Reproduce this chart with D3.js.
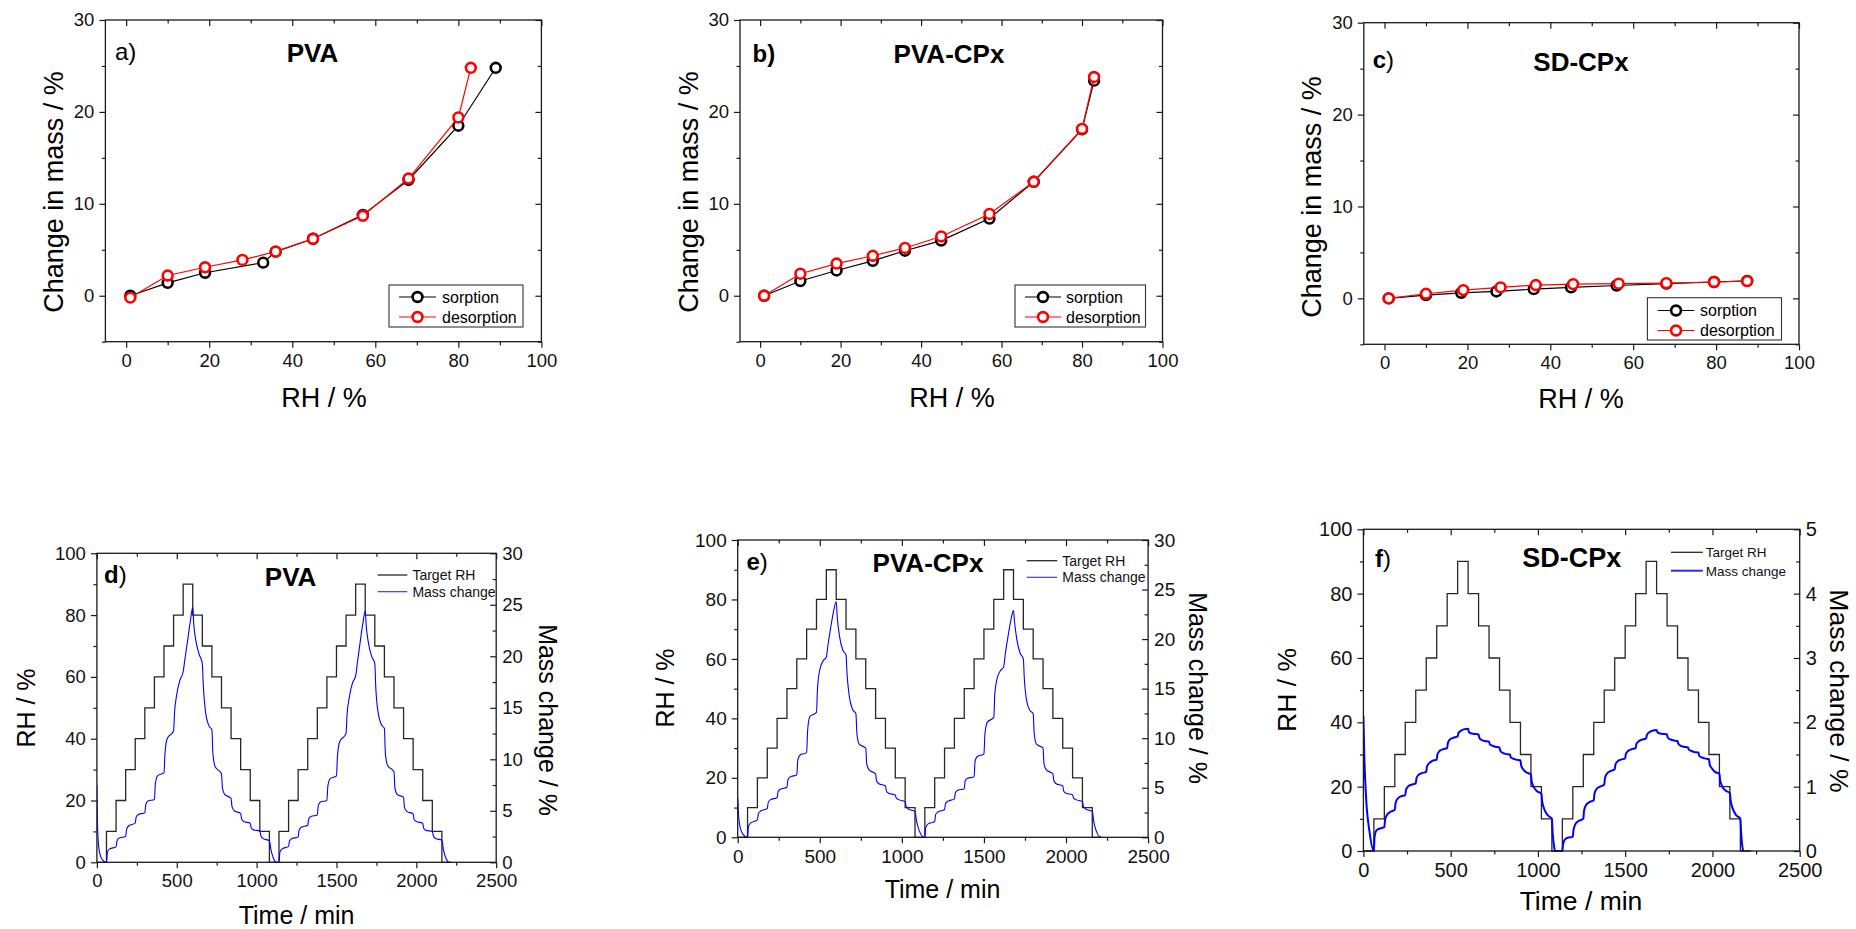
<!DOCTYPE html>
<html>
<head>
<meta charset="utf-8">
<script src="https://cdn.jsdelivr.net/npm/d3@7"></script>
<style>
  body { margin: 0; background: #fff; }
</style>
</head>
<body>
<script>
// ---------- Isotherm data (RH %, change in mass %) ----------
const rhPvaSorption      = [1, 10, 19, 33, 36, 45, 57, 68, 80, 89];
const massPvaSorption    = [0, 1.4, 2.5, 3.6, 4.8, 6.2, 8.8, 12.6, 18.5, 24.8];
const rhPvaDesorption    = [1, 10, 19, 28, 36, 45, 57, 68, 80, 83];
const massPvaDesorption  = [-0.2, 2.2, 3.1, 3.9, 4.8, 6.2, 8.7, 12.75, 19.4, 24.8];

const rhPvaCpxSorption     = [1, 10, 19, 28, 36, 45, 57, 68, 80, 83];
const massPvaCpxSorption   = [0, 1.6, 2.75, 3.8, 4.9, 6.0, 8.4, 12.4, 18.1, 23.4];
const rhPvaCpxDesorption   = [1, 10, 19, 28, 36, 45, 57, 68, 80, 83];
const massPvaCpxDesorption = [0, 2.4, 3.5, 4.35, 5.2, 6.45, 8.9, 12.4, 18.15, 23.8];

const rhSdCpxSorption     = [1, 10, 18.5, 27, 36, 45, 56, 68, 79.5, 87.5];
const massSdCpxSorption   = [0, 0.35, 0.6, 0.75, 1.0, 1.2, 1.4, 1.6, 1.78, 1.9];
const rhSdCpxDesorption   = [1, 10, 19, 28, 36.5, 45.5, 56.5, 68, 79.5, 87.5];
const massSdCpxDesorption = [0, 0.5, 0.9, 1.2, 1.45, 1.55, 1.6, 1.65, 1.78, 1.88];

// ---------- DVS programme: target RH held for 60 min per step ----------
const stepMinutes = 60;
const targetRhSteps = [0, 10, 20, 30, 40, 50, 60, 70, 80, 90, 80, 70, 60, 50, 40, 30, 20, 10,
                       0, 10, 20, 30, 40, 50, 60, 70, 80, 90, 80, 70, 60, 50, 40, 30, 20, 10, 0];

// ---------- Mass change traces [time min, mass %] ----------
const massTracePva = [
  [0,7.5],[4,3.6],[12,1.4],[30,0.35],[60,0],
  [66,1.0],[80,1.3],[120,1.5],
  [126,2.1],[140,2.35],[180,2.5],
  [186,3.2],[200,3.55],[240,3.8],
  [246,4.4],[260,4.65],[300,4.8],
  [306,5.6],[320,5.95],[360,6.1],
  [366,7.6],[380,8.4],[420,8.7],
  [426,10.5],[440,12.0],[480,12.75],
  [486,14.5],[500,16.3],[520,17.7],[540,18.5],
  [550,19.6],[565,21.2],[585,23.4],[600,24.75],
  [606,23.2],[620,21.5],[640,20.2],[660,19.3],
  [666,17.2],[680,14.6],[700,13.3],[720,12.85],
  [726,10.6],[740,9.3],[780,8.6],
  [786,7.2],[800,6.6],[840,6.2],
  [846,5.4],[860,5.0],[900,4.75],
  [906,4.2],[920,3.95],[960,3.8],
  [966,3.35],[980,3.15],[1020,3.05],
  [1026,2.6],[1040,2.3],[1080,2.1],
  [1090,1.2],[1105,0.4],[1125,0],[1140,0],
  [1146,1.0],[1160,1.3],[1200,1.55],
  [1206,2.1],[1220,2.3],[1260,2.45],
  [1266,3.1],[1280,3.4],[1320,3.6],
  [1326,4.2],[1340,4.45],[1380,4.6],
  [1386,5.5],[1400,5.85],[1440,6.0],
  [1446,7.4],[1460,8.1],[1500,8.4],
  [1506,10.3],[1520,11.7],[1560,12.5],
  [1566,14.3],[1580,16.0],[1600,17.4],[1620,18.1],
  [1630,19.3],[1645,21.0],[1665,23.2],[1680,24.4],
  [1686,23.0],[1700,21.3],[1720,20.0],[1740,19.3],
  [1746,17.0],[1760,14.6],[1780,13.4],[1800,13.0],
  [1806,10.6],[1820,9.4],[1860,8.8],
  [1866,7.2],[1880,6.6],[1920,6.3],
  [1926,5.3],[1940,4.95],[1980,4.7],
  [1986,4.15],[2000,3.95],[2040,3.8],
  [2046,3.3],[2060,3.1],[2100,3.0],
  [2106,2.6],[2120,2.3],[2160,2.15],
  [2170,1.2],[2185,0.4],[2203,0]
];

const massTracePvaCpx = [
  [0,4.0],[5,2.3],[15,1.0],[30,0.35],[60,0],
  [66,1.1],[80,1.45],[120,1.75],
  [126,2.4],[140,2.65],[180,2.9],
  [186,3.5],[200,3.8],[240,4.0],
  [246,4.6],[260,4.85],[300,5.05],
  [306,5.8],[320,6.1],[360,6.3],
  [366,7.8],[380,8.3],[420,8.55],
  [426,10.8],[440,12.2],[480,12.6],
  [486,15.0],[500,16.9],[520,17.8],[540,18.2],
  [550,19.4],[565,21.0],[585,22.9],[600,23.8],
  [606,22.3],[620,20.3],[640,18.9],[660,18.4],
  [666,16.5],[680,14.2],[700,12.9],[720,12.5],
  [726,10.5],[740,9.4],[780,9.0],
  [786,7.4],[800,6.8],[840,6.4],
  [846,5.7],[860,5.4],[900,5.2],
  [906,4.65],[920,4.45],[960,4.27],
  [966,3.95],[980,3.8],[1020,3.6],
  [1026,3.1],[1040,2.85],[1080,2.6],
  [1090,1.6],[1105,0.7],[1125,0.1],[1139,0],
  [1146,1.0],[1160,1.35],[1200,1.6],
  [1206,2.3],[1220,2.55],[1260,2.8],
  [1266,3.4],[1280,3.65],[1320,3.85],
  [1326,4.5],[1340,4.75],[1380,4.9],
  [1386,5.7],[1400,5.95],[1440,6.1],
  [1446,7.7],[1460,8.15],[1500,8.4],
  [1506,10.4],[1520,11.6],[1560,12.1],
  [1566,14.4],[1580,16.0],[1600,16.8],[1620,17.2],
  [1630,18.5],[1645,20.1],[1665,22.0],[1680,22.9],
  [1686,21.8],[1700,20.0],[1720,18.6],[1740,18.0],
  [1746,16.0],[1760,13.8],[1780,12.8],[1800,12.5],
  [1806,10.5],[1820,9.4],[1860,9.0],
  [1866,7.4],[1880,6.8],[1920,6.4],
  [1926,5.7],[1940,5.4],[1980,5.2],
  [1986,4.65],[2000,4.45],[2040,4.3],
  [2046,3.95],[2060,3.8],[2100,3.6],
  [2106,3.1],[2120,2.85],[2160,2.6],
  [2170,1.5],[2185,0.6],[2205,0.05],[2215,0]
];

const massTraceSdCpx = [
  [0,2.1],[5,1.5],[15,0.85],[35,0.3],[60,0],
  [64,0.22],[75,0.32],[95,0.35],[120,0.37],
  [124,0.48],[135,0.56],[155,0.61],[180,0.64],
  [184,0.74],[195,0.81],[215,0.85],[240,0.87],
  [244,0.95],[255,1.0],[275,1.03],[300,1.05],
  [304,1.13],[315,1.18],[335,1.21],[360,1.23],
  [364,1.31],[375,1.36],[395,1.4],[420,1.42],
  [424,1.5],[435,1.55],[455,1.58],[480,1.6],
  [484,1.68],[495,1.73],[515,1.76],[540,1.78],
  [544,1.83],[555,1.86],[575,1.89],[600,1.9],
  [604,1.85],[615,1.83],[635,1.82],[660,1.81],
  [664,1.76],[675,1.73],[695,1.71],[720,1.7],
  [724,1.66],[735,1.64],[755,1.62],[780,1.61],
  [784,1.56],[795,1.53],[815,1.51],[840,1.5],
  [844,1.46],[855,1.44],[875,1.42],[900,1.41],
  [904,1.33],[915,1.27],[935,1.22],[960,1.19],
  [964,1.08],[975,1.0],[995,0.93],[1020,0.89],
  [1024,0.78],[1035,0.66],[1055,0.56],[1080,0.5],
  [1084,0.3],[1092,0.08],[1100,0],[1140,0],
  [1144,0.1],[1155,0.18],[1175,0.21],[1200,0.22],
  [1204,0.33],[1215,0.42],[1235,0.47],[1260,0.5],
  [1264,0.62],[1275,0.71],[1295,0.76],[1320,0.79],
  [1324,0.89],[1335,0.96],[1355,1.0],[1380,1.03],
  [1384,1.13],[1395,1.2],[1415,1.24],[1440,1.27],
  [1444,1.34],[1455,1.39],[1475,1.42],[1500,1.44],
  [1504,1.51],[1515,1.55],[1535,1.58],[1560,1.6],
  [1564,1.66],[1575,1.7],[1595,1.73],[1620,1.75],
  [1624,1.8],[1635,1.84],[1655,1.87],[1680,1.88],
  [1684,1.85],[1695,1.83],[1715,1.82],[1740,1.81],
  [1744,1.76],[1755,1.74],[1775,1.72],[1800,1.71],
  [1804,1.67],[1815,1.64],[1835,1.62],[1860,1.61],
  [1864,1.58],[1875,1.56],[1895,1.54],[1920,1.53],
  [1924,1.48],[1935,1.46],[1955,1.44],[1980,1.43],
  [1984,1.35],[1995,1.29],[2015,1.23],[2040,1.2],
  [2044,1.1],[2055,1.01],[2075,0.94],[2100,0.9],
  [2104,0.79],[2115,0.67],[2135,0.56],[2160,0.5],
  [2164,0.3],[2170,0.1],[2176,0]
];

// ---------- Tick values ----------
const rhTicksMajor = [0, 20, 40, 60, 80, 100];
const rhTicksMinor = [10, 30, 50, 70, 90];
const massTicksMajor = [0, 10, 20, 30];
const massTicksMinor = [-5, 5, 15, 25];
const timeTicksMajor = [0, 500, 1000, 1500, 2000, 2500];
const timeTicksMinor = [250, 750, 1250, 1750, 2250];
const rhAxisTicksMajor = [0, 20, 40, 60, 80, 100];
const rhAxisTicksMinor = [10, 30, 50, 70, 90];
const massChangeTicksMajor = [0, 5, 10, 15, 20, 25, 30];
const massChangeTicksMinor = [2.5, 7.5, 12.5, 17.5, 22.5, 27.5];
const massChangeSdTicksMajor = [0, 1, 2, 3, 4, 5];
const massChangeSdTicksMinor = [0.5, 1.5, 2.5, 3.5, 4.5];

// ---------- Drawing ----------
const FONT = "Arial, 'Liberation Sans', Helvetica, sans-serif";
const INK = "#1a1a1a";
const svg = d3.select("body").append("svg")
  .attr("width", 1856).attr("height", 929)
  .style("display", "block");

let clipCount = 0;

function axis(g, fn, scale, values, size, transform, withLabels, fontSize, pad) {
  const ax = fn(scale).tickValues(values).tickSizeInner(size).tickSizeOuter(0)
    .tickPadding(pad || 6);
  ax.tickFormat(withLabels ? d3.format("d") : "");
  const sel = g.append("g").attr("transform", transform).call(ax);
  sel.select(".domain").remove();
  sel.selectAll("line").attr("stroke", INK).attr("stroke-width", 1.2);
  sel.selectAll("text").attr("font-family", FONT).attr("font-size", fontSize)
    .attr("fill", "#111");
  return sel;
}

function frame(g, x0, y0, x1, y1) {
  g.append("rect").attr("x", x0).attr("y", y0)
    .attr("width", x1 - x0).attr("height", y1 - y0)
    .attr("fill", "none").attr("stroke", INK).attr("stroke-width", 1.3);
}

function clip(g, x0, y0, x1, y1) {
  const id = "clip" + (clipCount++);
  g.append("clipPath").attr("id", id).append("rect")
    .attr("x", x0).attr("y", y0).attr("width", x1 - x0).attr("height", y1 - y0);
  return "url(#" + id + ")";
}

function panelTag(g, tag) {
  const t = g.append("text").attr("x", tag.x).attr("y", tag.y)
    .attr("font-family", FONT).attr("font-size", tag.size).attr("fill", "#000");
  tag.parts.forEach(p => t.append("tspan").attr("font-weight", p[1]).text(p[0]));
}

function panelTitle(g, t) {
  g.append("text").attr("x", t.x).attr("y", t.y).attr("text-anchor", "middle")
    .attr("font-family", FONT).attr("font-size", t.size).attr("font-weight", "bold")
    .attr("fill", "#000").text(t.text);
}

function axisTitle(g, text, cx, cy, rot, size) {
  g.append("text")
    .attr("transform", `translate(${cx},${cy}) rotate(${rot})`)
    .attr("text-anchor", "middle").attr("dy", rot === 0 ? 0 : "0.36em")
    .attr("font-family", FONT).attr("font-size", size).attr("fill", "#000")
    .text(text);
}

function isothermPanel(cfg) {
  const [x0, y0, x1, y1] = cfg.frame;
  const g = svg.append("g");
  const x = d3.scaleLinear().domain([-5, 100]).range([x0, x1]);
  const y = d3.scaleLinear().domain([-5, 30]).range([y1, y0]);
  const fs = cfg.tickFont;

  axis(g, d3.axisBottom, x, rhTicksMajor, 6, `translate(0,${y1})`, true, fs, 6);
  axis(g, d3.axisBottom, x, rhTicksMinor, 3.5, `translate(0,${y1})`, false, fs);
  axis(g, d3.axisTop, x, rhTicksMajor, -6, `translate(0,${y0})`, false, fs);
  axis(g, d3.axisTop, x, rhTicksMinor, -3.5, `translate(0,${y0})`, false, fs);
  axis(g, d3.axisLeft, y, massTicksMajor, 6, `translate(${x0},0)`, true, fs, 5);
  axis(g, d3.axisLeft, y, massTicksMinor, 3.5, `translate(${x0},0)`, false, fs);
  axis(g, d3.axisRight, y, massTicksMajor, -6, `translate(${x1},0)`, false, fs);
  axis(g, d3.axisRight, y, massTicksMinor, -3.5, `translate(${x1},0)`, false, fs);
  frame(g, x0, y0, x1, y1);

  const line = d3.line().x(d => x(d[0])).y(d => y(d[1]));
  const series = [
    { rh: cfg.sorpRh, mass: cfg.sorpMass, color: "#000" },
    { rh: cfg.desRh, mass: cfg.desMass, color: "#ff0000" }
  ];
  series.forEach(s => {
    const pts = s.rh.map((v, i) => [v, s.mass[i]]);
    g.append("path").datum(pts).attr("d", line)
      .attr("fill", "none").attr("stroke", s.color).attr("stroke-width", 1.2);
    g.selectAll(null).data(pts).enter().append("circle")
      .attr("cx", d => x(d[0])).attr("cy", d => y(d[1])).attr("r", 4.9)
      .attr("fill", "#fff").attr("stroke", s.color).attr("stroke-width", 2.6);
  });

  // legend
  const L = cfg.legend;
  g.append("rect").attr("x", L.x0).attr("y", L.y0)
    .attr("width", L.x1 - L.x0).attr("height", L.y1 - L.y0)
    .attr("fill", "#fff").attr("stroke", "#333").attr("stroke-width", 1.1);
  [["sorption", "#000", L.row1], ["desorption", "#ff0000", L.row2]].forEach(r => {
    g.append("line").attr("x1", L.lx0).attr("x2", L.lx1).attr("y1", r[2]).attr("y2", r[2])
      .attr("stroke", r[1]).attr("stroke-width", 1.2);
    g.append("circle").attr("cx", (L.lx0 + L.lx1) / 2).attr("cy", r[2]).attr("r", 4.9)
      .attr("fill", "#fff").attr("stroke", r[1]).attr("stroke-width", 2.6);
    g.append("text").attr("x", L.tx).attr("y", r[2]).attr("dy", "0.36em")
      .attr("font-family", FONT).attr("font-size", L.size).attr("fill", "#000").text(r[0]);
  });

  panelTag(g, cfg.tag);
  panelTitle(g, cfg.title);
  axisTitle(g, "Change in mass / %", cfg.yTitle[0], cfg.yTitle[1], -90, 27);
  axisTitle(g, "RH / %", cfg.xTitle[0], cfg.xTitle[1], 0, 27);
}

function kineticsPanel(cfg) {
  const [x0, y0, x1, y1] = cfg.frame;
  const g = svg.append("g");
  const x = d3.scaleLinear().domain([0, 2500]).range([x0, x1]);
  const yRh = d3.scaleLinear().domain([0, 100]).range([y1, y0]);
  const yMass = d3.scaleLinear().domain([0, cfg.massMax]).range([y1, y0]);
  const fs = cfg.tickFont;

  axis(g, d3.axisBottom, x, timeTicksMajor, 6, `translate(0,${y1})`, true, fs, 6);
  axis(g, d3.axisBottom, x, timeTicksMinor, 3.5, `translate(0,${y1})`, false, fs);
  axis(g, d3.axisTop, x, timeTicksMajor, -6, `translate(0,${y0})`, false, fs);
  axis(g, d3.axisTop, x, timeTicksMinor, -3.5, `translate(0,${y0})`, false, fs);
  axis(g, d3.axisLeft, yRh, rhAxisTicksMajor, 6, `translate(${x0},0)`, true, fs, 5);
  axis(g, d3.axisLeft, yRh, rhAxisTicksMinor, 3.5, `translate(${x0},0)`, false, fs);
  axis(g, d3.axisRight, yMass, cfg.massMajor, -6, `translate(${x1},0)`, true, fs, 6);
  axis(g, d3.axisRight, yMass, cfg.massMinor, -3.5, `translate(${x1},0)`, false, fs);

  const cp = clip(g, x0, y0 - 1, x1, y1 + 1);
  const rhPts = targetRhSteps.map((v, i) => [i * stepMinutes, v]);
  rhPts.push([targetRhSteps.length * stepMinutes, targetRhSteps[targetRhSteps.length - 1]]);
  const rhLine = d3.line().x(d => x(d[0])).y(d => yRh(d[1])).curve(d3.curveStepAfter);
  g.append("path").datum(rhPts).attr("d", rhLine).attr("clip-path", cp)
    .attr("fill", "none").attr("stroke", "#262626").attr("stroke-width", 1.3);

  const massLine = d3.line().x(d => x(d[0])).y(d => yMass(d[1])).curve(d3.curveMonotoneX);
  g.append("path").datum(cfg.trace).attr("d", massLine).attr("clip-path", cp)
    .attr("fill", "none").attr("stroke", "#0000ff").attr("stroke-width", cfg.massWidth)
    .attr("stroke-linejoin", "round");

  frame(g, x0, y0, x1, y1);

  // legend
  const L = cfg.legend;
  [["Target RH", "#262626", 1.3, L.row1], ["Mass change", "#2a2aff", cfg.massWidth, L.row2]].forEach(r => {
    g.append("line").attr("x1", L.lx0).attr("x2", L.lx1).attr("y1", r[3]).attr("y2", r[3])
      .attr("stroke", r[1]).attr("stroke-width", r[2]);
    g.append("text").attr("x", L.tx).attr("y", r[3]).attr("dy", "0.36em")
      .attr("font-family", FONT).attr("font-size", L.size).attr("fill", "#111").text(r[0]);
  });

  panelTag(g, cfg.tag);
  panelTitle(g, cfg.title);
  axisTitle(g, "RH / %", cfg.yTitle[0], cfg.yTitle[1], -90, cfg.titleSize);
  axisTitle(g, "Mass change / %", cfg.y2Title[0], cfg.y2Title[1], 90, cfg.titleSize);
  axisTitle(g, "Time / min", cfg.xTitle[0], cfg.xTitle[1], 0, cfg.titleSize);
}

// ---------- Top row: sorption isotherms ----------
isothermPanel({
  frame: [105.4, 20, 541.4, 341.7], tickFont: 18.5,
  sorpRh: rhPvaSorption, sorpMass: massPvaSorption,
  desRh: rhPvaDesorption, desMass: massPvaDesorption,
  legend: { x0: 389, y0: 285, x1: 523, y1: 327, lx0: 399, lx1: 436, tx: 442, row1: 297, row2: 317, size: 16 },
  tag: { x: 115, y: 60, size: 24, parts: [["a)", "normal"]] },
  title: { x: 312.5, y: 62, size: 26, text: "PVA" },
  yTitle: [53, 192], xTitle: [324, 407]
});
isothermPanel({
  frame: [740, 20, 1162.5, 341.7], tickFont: 18.5,
  sorpRh: rhPvaCpxSorption, sorpMass: massPvaCpxSorption,
  desRh: rhPvaCpxDesorption, desMass: massPvaCpxDesorption,
  legend: { x0: 1015, y0: 285, x1: 1145.5, y1: 327, lx0: 1025, lx1: 1061, tx: 1066, row1: 297, row2: 317, size: 16 },
  tag: { x: 752.6, y: 62, size: 24, parts: [["b)", "bold"]] },
  title: { x: 949, y: 63, size: 26, text: "PVA-CPx" },
  yTitle: [688, 192], xTitle: [952, 407]
});
isothermPanel({
  frame: [1363.8, 22.7, 1799, 344.3], tickFont: 18.5,
  sorpRh: rhSdCpxSorption, sorpMass: massSdCpxSorption,
  desRh: rhSdCpxDesorption, desMass: massSdCpxDesorption,
  legend: { x0: 1647.4, y0: 297.7, x1: 1781.5, y1: 340, lx0: 1657.7, lx1: 1694.4, tx: 1700, row1: 310.5, row2: 330.5, size: 16 },
  tag: { x: 1372.7, y: 68, size: 24, parts: [["c", "bold"], [")", "normal"]] },
  title: { x: 1581, y: 71, size: 26, text: "SD-CPx" },
  yTitle: [1311, 197], xTitle: [1581, 408]
});

// ---------- Bottom row: DVS kinetics ----------
kineticsPanel({
  frame: [96.9, 553.3, 496.2, 862.3], tickFont: 18.5, titleSize: 25,
  massMax: 30, massMajor: massChangeTicksMajor, massMinor: massChangeTicksMinor,
  trace: massTracePva, massWidth: 1.1,
  legend: { lx0: 377.6, lx1: 407.3, tx: 412.4, row1: 575, row2: 591.7, size: 14 },
  tag: { x: 104, y: 583, size: 24, parts: [["d", "bold"], [")", "normal"]] },
  title: { x: 290.6, y: 586, size: 26, text: "PVA" },
  yTitle: [26, 708], y2Title: [547.6, 720], xTitle: [296.6, 924]
});
kineticsPanel({
  frame: [737.7, 540, 1148.1, 837.3], tickFont: 19, titleSize: 25,
  massMax: 30, massMajor: massChangeTicksMajor, massMinor: massChangeTicksMinor,
  trace: massTracePvaCpx, massWidth: 1.1,
  legend: { lx0: 1026.7, lx1: 1057.2, tx: 1062.3, row1: 560.7, row2: 577.3, size: 14 },
  tag: { x: 746.5, y: 570, size: 24, parts: [["e", "bold"], [")", "normal"]] },
  title: { x: 928, y: 572, size: 26, text: "PVA-CPx" },
  yTitle: [664.5, 688], y2Title: [1197.5, 688], xTitle: [942.5, 898]
});
kineticsPanel({
  frame: [1363.4, 529.3, 1799.7, 851], tickFont: 20, titleSize: 26.5,
  massMax: 5, massMajor: massChangeSdTicksMajor, massMinor: massChangeSdTicksMinor,
  trace: massTraceSdCpx, massWidth: 2,
  legend: { lx0: 1671, lx1: 1702.8, tx: 1705.8, row1: 552.3, row2: 570.7, size: 13.5 },
  tag: { x: 1375, y: 567, size: 24, parts: [["f", "bold"], [")", "normal"]] },
  title: { x: 1571.7, y: 567, size: 27, text: "SD-CPx" },
  yTitle: [1286.6, 690], y2Title: [1839.6, 691], xTitle: [1581, 910]
});
</script>
</body>
</html>
